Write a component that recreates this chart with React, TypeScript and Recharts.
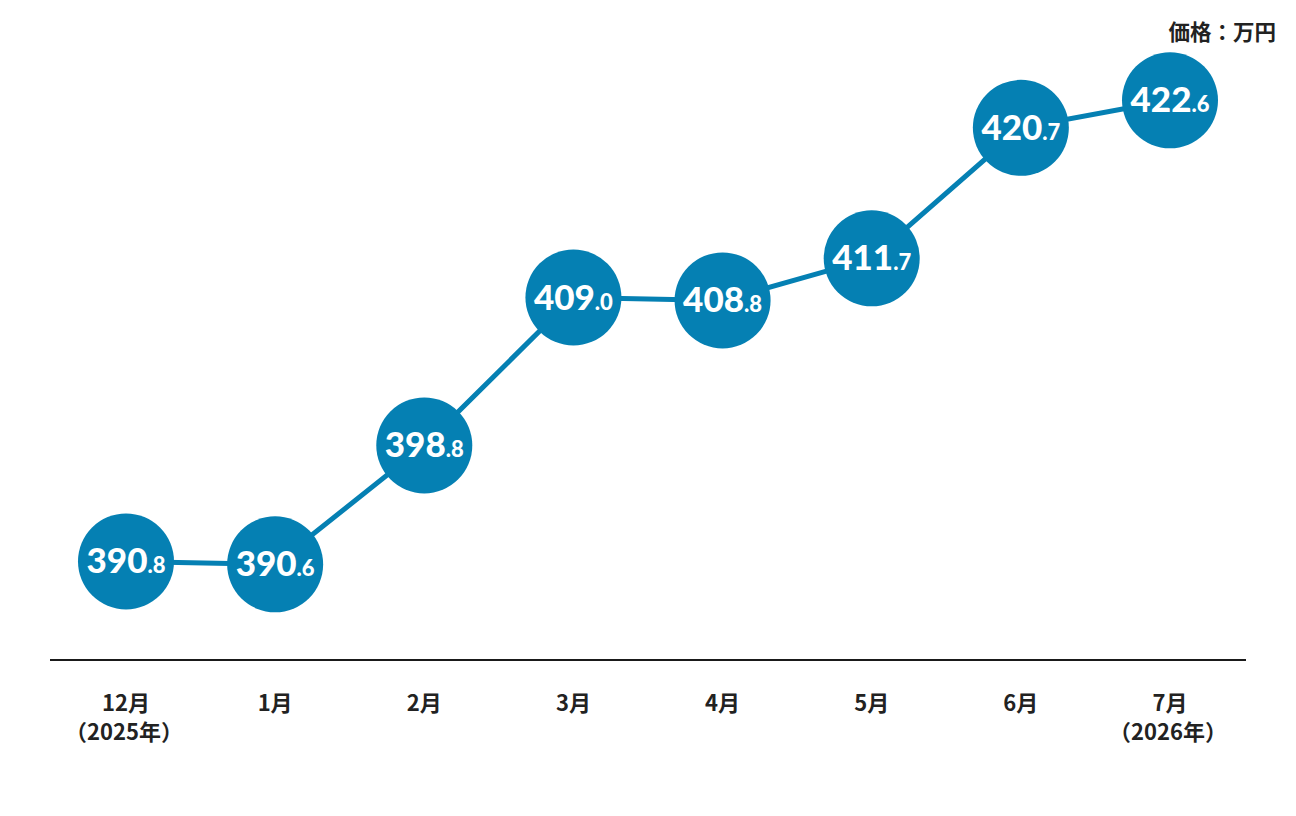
import React from "react";
import { LineChart, Line, XAxis, YAxis } from "recharts";

const months = ["12月", "1月", "2月", "3月", "4月", "5月", "6月", "7月"];
const yearNotes = ["（2025年）", "", "", "", "", "", "", "（2026年）"];
const prices = [390.8, 390.6, 398.8, 409.0, 408.8, 411.7, 420.7, 422.6];
const unitLabel = "価格：万円";

const data = months.map((m, i) => ({ month: m, note: yearNotes[i], price: prices[i] }));

const BLUE = "#0580b3";

const Dot = (props: any) => {
  const { cx, cy, payload } = props;
  if (cx == null || cy == null) return null;
  const s = payload.price.toFixed(1);
  const [intPart, decPart] = s.split(".");
  return (
    <g>
      <circle cx={cx} cy={cy} r={48} fill={BLUE} />
      <text
        x={cx}
        y={cy + 12}
        textAnchor="middle"
        fill="#fff"
        fontFamily="Lato, 'Open Sans', sans-serif"
        fontWeight={900}
      >
        <tspan fontSize={35}>{intPart}</tspan>
        <tspan fontSize={22}>.{decPart}</tspan>
      </text>
    </g>
  );
};

const Tick = (props: any) => {
  const { x, y, payload, index } = props;
  const note = yearNotes[index];
  return (
    <g>
      <text
        x={x}
        y={y + 43}
        textAnchor="middle"
        fill="#222"
        fontSize={22}
        fontWeight={700}
        fontFamily="'Noto Sans CJK JP', sans-serif"
      >
        {payload.value}
      </text>
      {note ? (
        <text
          x={x - 2}
          y={y + 72}
          textAnchor="middle"
          fill="#222"
          fontSize={22}
          fontWeight={700}
          fontFamily="'Noto Sans CJK JP', sans-serif"
        >
          {note}
        </text>
      ) : null}
    </g>
  );
};

export default function App() {
  return (
    <div style={{ position: "relative", width: 1280, height: 800 }}>
      <div
        style={{
          position: "absolute",
          right: 12,
          top: 10,
          fontFamily: "'Noto Sans CJK JP', sans-serif",
          fontWeight: 700,
          fontSize: 21.5,
          color: "#222",
          lineHeight: "26px",
        }}
      >
        {unitLabel}
      </div>
      <LineChart
        width={1280}
        height={800}
        data={data}
        margin={{ top: 72, right: 42, left: 42, bottom: 48 }}
      >
        <YAxis hide domain={[384, 424]} type="number" />
        <XAxis
          dataKey="month"
          padding={{ left: 76, right: 76 }}
          axisLine={{ stroke: "#1a1a1a", strokeWidth: 2 }}
          tickLine={false}
          tick={<Tick />}
          height={100}
          interval={0}
        />
        <Line
          type="linear"
          dataKey="price"
          stroke={BLUE}
          strokeWidth={5}
          dot={<Dot />}
          activeDot={false}
          isAnimationActive={false}
        />
      </LineChart>
    </div>
  );
}
